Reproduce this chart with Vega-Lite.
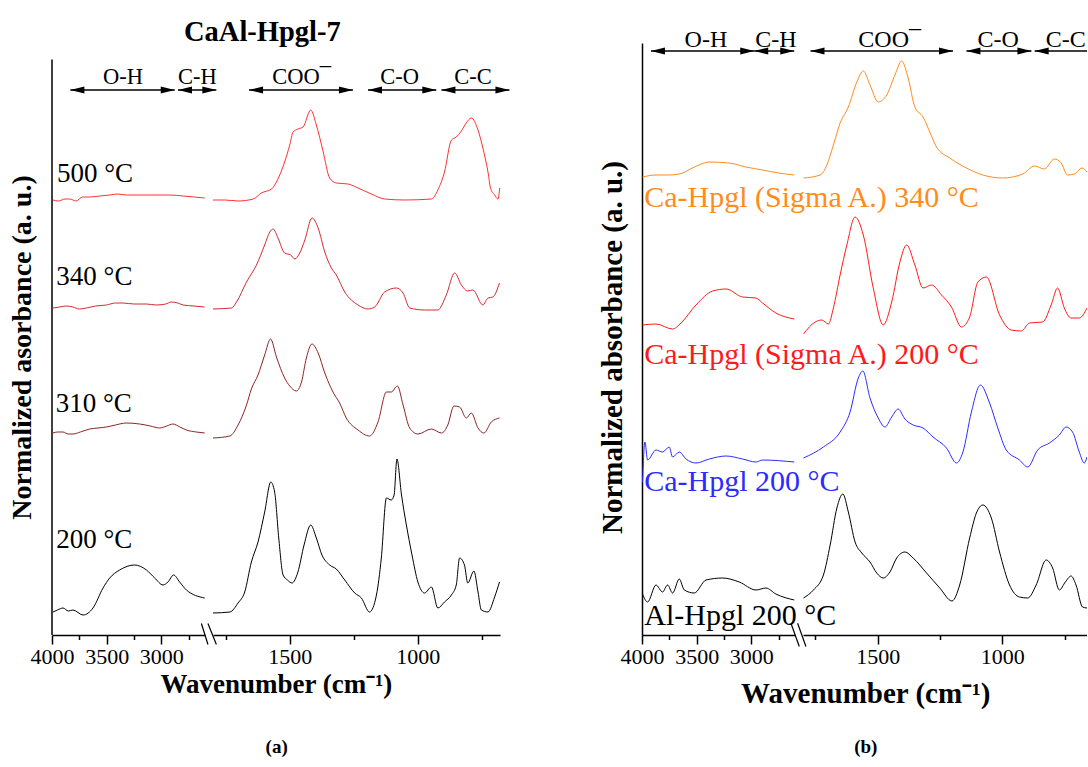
{
  "$schema": "https://vega.github.io/schema/vega-lite/v6.json",
  "padding": {"left": 8, "top": 18, "right": 0, "bottom": 0},
  "background": "white",
  "bounds": "flush",
  "spacing": 8,
  "config": {
    "view": {"stroke": null},
    "font": "Liberation Serif",
    "axis": {"grid": false, "domainColor": "black", "tickColor": "black", "labelColor": "black", "titleColor": "black", "labelFont": "Liberation Serif", "titleFont": "Liberation Serif"},
    "axisX": {"tickWidth": 1.5, "domainWidth": 1.5, "labelFontSize": 22, "labelPadding": 2, "labelFlush": false, "labelOverlap": false},
    "text": {"font": "Liberation Serif", "color": "black"}
  },
  "datasets": {
    "aL": [
      {"series": "500 °C", "wn": 3991, "abs": 435}, {"series": "500 °C", "wn": 3940, "abs": 434}, {"series": "500 °C", "wn": 3880, "abs": 436}, {"series": "500 °C", "wn": 3838, "abs": 436}, {"series": "500 °C", "wn": 3780, "abs": 434}, {"series": "500 °C", "wn": 3720, "abs": 438}, {"series": "500 °C", "wn": 3654, "abs": 438}, {"series": "500 °C", "wn": 3560, "abs": 439}, {"series": "500 °C", "wn": 3471, "abs": 440}, {"series": "500 °C", "wn": 3400, "abs": 441}, {"series": "500 °C", "wn": 3320, "abs": 440}, {"series": "500 °C", "wn": 3198, "abs": 440}, {"series": "500 °C", "wn": 3100, "abs": 440}, {"series": "500 °C", "wn": 3000, "abs": 440}, {"series": "500 °C", "wn": 2923, "abs": 440}, {"series": "500 °C", "wn": 2800, "abs": 439}, {"series": "500 °C", "wn": 2700, "abs": 438}, {"series": "500 °C", "wn": 2603, "abs": 437},
      {"series": "340 °C", "wn": 3991, "abs": 327}, {"series": "340 °C", "wn": 3930, "abs": 328}, {"series": "340 °C", "wn": 3870, "abs": 329}, {"series": "340 °C", "wn": 3808, "abs": 328}, {"series": "340 °C", "wn": 3750, "abs": 326}, {"series": "340 °C", "wn": 3685, "abs": 327}, {"series": "340 °C", "wn": 3600, "abs": 329}, {"series": "340 °C", "wn": 3502, "abs": 330}, {"series": "340 °C", "wn": 3420, "abs": 332}, {"series": "340 °C", "wn": 3350, "abs": 332}, {"series": "340 °C", "wn": 3250, "abs": 331}, {"series": "340 °C", "wn": 3136, "abs": 331}, {"series": "340 °C", "wn": 3045, "abs": 330}, {"series": "340 °C", "wn": 2960, "abs": 331}, {"series": "340 °C", "wn": 2908, "abs": 333}, {"series": "340 °C", "wn": 2850, "abs": 332}, {"series": "340 °C", "wn": 2801, "abs": 330}, {"series": "340 °C", "wn": 2700, "abs": 329}, {"series": "340 °C", "wn": 2603, "abs": 328},
      {"series": "310 °C", "wn": 3991, "abs": 202}, {"series": "310 °C", "wn": 3950, "abs": 203}, {"series": "310 °C", "wn": 3899, "abs": 203}, {"series": "310 °C", "wn": 3850, "abs": 201}, {"series": "310 °C", "wn": 3808, "abs": 201}, {"series": "310 °C", "wn": 3740, "abs": 203}, {"series": "310 °C", "wn": 3655, "abs": 206}, {"series": "310 °C", "wn": 3580, "abs": 207}, {"series": "310 °C", "wn": 3502, "abs": 208}, {"series": "310 °C", "wn": 3420, "abs": 210}, {"series": "310 °C", "wn": 3319, "abs": 212}, {"series": "310 °C", "wn": 3198, "abs": 211}, {"series": "310 °C", "wn": 3100, "abs": 209}, {"series": "310 °C", "wn": 3015, "abs": 207}, {"series": "310 °C", "wn": 2950, "abs": 209}, {"series": "310 °C", "wn": 2893, "abs": 211}, {"series": "310 °C", "wn": 2830, "abs": 208}, {"series": "310 °C", "wn": 2770, "abs": 205}, {"series": "310 °C", "wn": 2680, "abs": 203}, {"series": "310 °C", "wn": 2603, "abs": 202},
      {"series": "200 °C", "wn": 3991, "abs": 23}, {"series": "200 °C", "wn": 3950, "abs": 25}, {"series": "200 °C", "wn": 3899, "abs": 27}, {"series": "200 °C", "wn": 3850, "abs": 24}, {"series": "200 °C", "wn": 3808, "abs": 25}, {"series": "200 °C", "wn": 3716, "abs": 20}, {"series": "200 °C", "wn": 3625, "abs": 27}, {"series": "200 °C", "wn": 3533, "abs": 47}, {"series": "200 °C", "wn": 3472, "abs": 57}, {"series": "200 °C", "wn": 3381, "abs": 65}, {"series": "200 °C", "wn": 3244, "abs": 70}, {"series": "200 °C", "wn": 3136, "abs": 65}, {"series": "200 °C", "wn": 3060, "abs": 57}, {"series": "200 °C", "wn": 2984, "abs": 50}, {"series": "200 °C", "wn": 2939, "abs": 53}, {"series": "200 °C", "wn": 2887, "abs": 60}, {"series": "200 °C", "wn": 2832, "abs": 53}, {"series": "200 °C", "wn": 2770, "abs": 45}, {"series": "200 °C", "wn": 2603, "abs": 37}
    ],
    "aR": [
      {"series": "500 °C", "wn": 1800, "abs": 435}, {"series": "500 °C", "wn": 1754, "abs": 435}, {"series": "500 °C", "wn": 1702, "abs": 434}, {"series": "500 °C", "wn": 1643, "abs": 436}, {"series": "500 °C", "wn": 1611, "abs": 442}, {"series": "500 °C", "wn": 1571, "abs": 446}, {"series": "500 °C", "wn": 1552, "abs": 453}, {"series": "500 °C", "wn": 1520, "abs": 473}, {"series": "500 °C", "wn": 1500, "abs": 490}, {"series": "500 °C", "wn": 1487, "abs": 503}, {"series": "500 °C", "wn": 1468, "abs": 506}, {"series": "500 °C", "wn": 1448, "abs": 508}, {"series": "500 °C", "wn": 1418, "abs": 525}, {"series": "500 °C", "wn": 1396, "abs": 510}, {"series": "500 °C", "wn": 1370, "abs": 484}, {"series": "500 °C", "wn": 1344, "abs": 457}, {"series": "500 °C", "wn": 1318, "abs": 452}, {"series": "500 °C", "wn": 1272, "abs": 451}, {"series": "500 °C", "wn": 1233, "abs": 447}, {"series": "500 °C", "wn": 1181, "abs": 441}, {"series": "500 °C", "wn": 1129, "abs": 436}, {"series": "500 °C", "wn": 1051, "abs": 435}, {"series": "500 °C", "wn": 946, "abs": 436}, {"series": "500 °C", "wn": 921, "abs": 445}, {"series": "500 °C", "wn": 895, "abs": 463}, {"series": "500 °C", "wn": 868, "abs": 495}, {"series": "500 °C", "wn": 849, "abs": 498}, {"series": "500 °C", "wn": 829, "abs": 504}, {"series": "500 °C", "wn": 810, "abs": 512}, {"series": "500 °C", "wn": 790, "abs": 517}, {"series": "500 °C", "wn": 764, "abs": 505}, {"series": "500 °C", "wn": 745, "abs": 487}, {"series": "500 °C", "wn": 725, "abs": 463}, {"series": "500 °C", "wn": 715, "abs": 447}, {"series": "500 °C", "wn": 699, "abs": 440}, {"series": "500 °C", "wn": 686, "abs": 436}, {"series": "500 °C", "wn": 679, "abs": 447},
      {"series": "340 °C", "wn": 1800, "abs": 326}, {"series": "340 °C", "wn": 1728, "abs": 327}, {"series": "340 °C", "wn": 1708, "abs": 333}, {"series": "340 °C", "wn": 1669, "abs": 353}, {"series": "340 °C", "wn": 1630, "abs": 370}, {"series": "340 °C", "wn": 1598, "abs": 390}, {"series": "340 °C", "wn": 1578, "abs": 403}, {"series": "340 °C", "wn": 1565, "abs": 406}, {"series": "340 °C", "wn": 1546, "abs": 397}, {"series": "340 °C", "wn": 1520, "abs": 382}, {"series": "340 °C", "wn": 1496, "abs": 380}, {"series": "340 °C", "wn": 1480, "abs": 376}, {"series": "340 °C", "wn": 1461, "abs": 382}, {"series": "340 °C", "wn": 1441, "abs": 395}, {"series": "340 °C", "wn": 1413, "abs": 417}, {"series": "340 °C", "wn": 1389, "abs": 407}, {"series": "340 °C", "wn": 1363, "abs": 383}, {"series": "340 °C", "wn": 1337, "abs": 367}, {"series": "340 °C", "wn": 1318, "abs": 360}, {"series": "340 °C", "wn": 1285, "abs": 343}, {"series": "340 °C", "wn": 1233, "abs": 330}, {"series": "340 °C", "wn": 1194, "abs": 326}, {"series": "340 °C", "wn": 1168, "abs": 328}, {"series": "340 °C", "wn": 1129, "abs": 343}, {"series": "340 °C", "wn": 1083, "abs": 347}, {"series": "340 °C", "wn": 1057, "abs": 342}, {"series": "340 °C", "wn": 1031, "abs": 327}, {"series": "340 °C", "wn": 973, "abs": 325}, {"series": "340 °C", "wn": 921, "abs": 325}, {"series": "340 °C", "wn": 888, "abs": 340}, {"series": "340 °C", "wn": 855, "abs": 362}, {"series": "340 °C", "wn": 829, "abs": 350}, {"series": "340 °C", "wn": 804, "abs": 344}, {"series": "340 °C", "wn": 784, "abs": 345}, {"series": "340 °C", "wn": 745, "abs": 330}, {"series": "340 °C", "wn": 725, "abs": 337}, {"series": "340 °C", "wn": 706, "abs": 338}, {"series": "340 °C", "wn": 680, "abs": 352},
      {"series": "310 °C", "wn": 1800, "abs": 197}, {"series": "310 °C", "wn": 1734, "abs": 199}, {"series": "310 °C", "wn": 1702, "abs": 210}, {"series": "310 °C", "wn": 1669, "abs": 230}, {"series": "310 °C", "wn": 1650, "abs": 246}, {"series": "310 °C", "wn": 1624, "abs": 260}, {"series": "310 °C", "wn": 1598, "abs": 280}, {"series": "310 °C", "wn": 1575, "abs": 296}, {"series": "310 °C", "wn": 1552, "abs": 278}, {"series": "310 °C", "wn": 1520, "abs": 257}, {"series": "310 °C", "wn": 1500, "abs": 249}, {"series": "310 °C", "wn": 1474, "abs": 244}, {"series": "310 °C", "wn": 1454, "abs": 253}, {"series": "310 °C", "wn": 1435, "abs": 277}, {"series": "310 °C", "wn": 1413, "abs": 291}, {"series": "310 °C", "wn": 1389, "abs": 282}, {"series": "310 °C", "wn": 1363, "abs": 262}, {"series": "310 °C", "wn": 1331, "abs": 243}, {"series": "310 °C", "wn": 1305, "abs": 232}, {"series": "310 °C", "wn": 1279, "abs": 217}, {"series": "310 °C", "wn": 1233, "abs": 205}, {"series": "310 °C", "wn": 1188, "abs": 199}, {"series": "310 °C", "wn": 1155, "abs": 213}, {"series": "310 °C", "wn": 1122, "abs": 243}, {"series": "310 °C", "wn": 1103, "abs": 243}, {"series": "310 °C", "wn": 1079, "abs": 249}, {"series": "310 °C", "wn": 1057, "abs": 230}, {"series": "310 °C", "wn": 1031, "abs": 207}, {"series": "310 °C", "wn": 999, "abs": 201}, {"series": "310 °C", "wn": 946, "abs": 206}, {"series": "310 °C", "wn": 907, "abs": 202}, {"series": "310 °C", "wn": 882, "abs": 210}, {"series": "310 °C", "wn": 858, "abs": 229}, {"series": "310 °C", "wn": 836, "abs": 228}, {"series": "310 °C", "wn": 810, "abs": 217}, {"series": "310 °C", "wn": 790, "abs": 222}, {"series": "310 °C", "wn": 764, "abs": 207}, {"series": "310 °C", "wn": 741, "abs": 202}, {"series": "310 °C", "wn": 712, "abs": 213}, {"series": "310 °C", "wn": 680, "abs": 217},
      {"series": "200 °C", "wn": 1800, "abs": 22}, {"series": "200 °C", "wn": 1734, "abs": 23}, {"series": "200 °C", "wn": 1702, "abs": 32}, {"series": "200 °C", "wn": 1676, "abs": 43}, {"series": "200 °C", "wn": 1650, "abs": 73}, {"series": "200 °C", "wn": 1624, "abs": 93}, {"series": "200 °C", "wn": 1598, "abs": 123}, {"series": "200 °C", "wn": 1574, "abs": 153}, {"series": "200 °C", "wn": 1559, "abs": 143}, {"series": "200 °C", "wn": 1543, "abs": 97}, {"series": "200 °C", "wn": 1526, "abs": 60}, {"series": "200 °C", "wn": 1509, "abs": 55}, {"series": "200 °C", "wn": 1491, "abs": 52}, {"series": "200 °C", "wn": 1468, "abs": 63}, {"series": "200 °C", "wn": 1444, "abs": 90}, {"series": "200 °C", "wn": 1418, "abs": 110}, {"series": "200 °C", "wn": 1396, "abs": 97}, {"series": "200 °C", "wn": 1374, "abs": 80}, {"series": "200 °C", "wn": 1344, "abs": 70}, {"series": "200 °C", "wn": 1318, "abs": 66}, {"series": "200 °C", "wn": 1285, "abs": 55}, {"series": "200 °C", "wn": 1246, "abs": 42}, {"series": "200 °C", "wn": 1220, "abs": 37}, {"series": "200 °C", "wn": 1188, "abs": 23}, {"series": "200 °C", "wn": 1161, "abs": 40}, {"series": "200 °C", "wn": 1142, "abs": 77}, {"series": "200 °C", "wn": 1122, "abs": 137}, {"series": "200 °C", "wn": 1103, "abs": 135}, {"series": "200 °C", "wn": 1092, "abs": 140}, {"series": "200 °C", "wn": 1081, "abs": 176}, {"series": "200 °C", "wn": 1063, "abs": 140}, {"series": "200 °C", "wn": 1044, "abs": 110}, {"series": "200 °C", "wn": 1022, "abs": 80}, {"series": "200 °C", "wn": 999, "abs": 53}, {"series": "200 °C", "wn": 973, "abs": 42}, {"series": "200 °C", "wn": 946, "abs": 48}, {"series": "200 °C", "wn": 921, "abs": 27}, {"series": "200 °C", "wn": 895, "abs": 33}, {"series": "200 °C", "wn": 868, "abs": 40}, {"series": "200 °C", "wn": 849, "abs": 50}, {"series": "200 °C", "wn": 836, "abs": 77}, {"series": "200 °C", "wn": 817, "abs": 70}, {"series": "200 °C", "wn": 804, "abs": 52}, {"series": "200 °C", "wn": 780, "abs": 64}, {"series": "200 °C", "wn": 764, "abs": 43}, {"series": "200 °C", "wn": 751, "abs": 25}, {"series": "200 °C", "wn": 725, "abs": 23}, {"series": "200 °C", "wn": 699, "abs": 38}, {"series": "200 °C", "wn": 680, "abs": 53}
    ],
    "bL": [
      {"series": "Ca-Hpgl (Sigma A.) 340 °C", "wn": 3995, "abs": 458}, {"series": "Ca-Hpgl (Sigma A.) 340 °C", "wn": 3872, "abs": 460}, {"series": "Ca-Hpgl (Sigma A.) 340 °C", "wn": 3760, "abs": 460}, {"series": "Ca-Hpgl (Sigma A.) 340 °C", "wn": 3659, "abs": 461}, {"series": "Ca-Hpgl (Sigma A.) 340 °C", "wn": 3520, "abs": 468}, {"series": "Ca-Hpgl (Sigma A.) 340 °C", "wn": 3384, "abs": 473}, {"series": "Ca-Hpgl (Sigma A.) 340 °C", "wn": 3202, "abs": 472}, {"series": "Ca-Hpgl (Sigma A.) 340 °C", "wn": 3050, "abs": 468}, {"series": "Ca-Hpgl (Sigma A.) 340 °C", "wn": 2897, "abs": 465}, {"series": "Ca-Hpgl (Sigma A.) 340 °C", "wn": 2750, "abs": 462}, {"series": "Ca-Hpgl (Sigma A.) 340 °C", "wn": 2607, "abs": 460},
      {"series": "Ca-Hpgl (Sigma A.) 200 °C", "wn": 3995, "abs": 310}, {"series": "Ca-Hpgl (Sigma A.) 200 °C", "wn": 3872, "abs": 311}, {"series": "Ca-Hpgl (Sigma A.) 200 °C", "wn": 3720, "abs": 306}, {"series": "Ca-Hpgl (Sigma A.) 200 °C", "wn": 3643, "abs": 312}, {"series": "Ca-Hpgl (Sigma A.) 200 °C", "wn": 3506, "abs": 330}, {"series": "Ca-Hpgl (Sigma A.) 200 °C", "wn": 3353, "abs": 344}, {"series": "Ca-Hpgl (Sigma A.) 200 °C", "wn": 3231, "abs": 346}, {"series": "Ca-Hpgl (Sigma A.) 200 °C", "wn": 3080, "abs": 338}, {"series": "Ca-Hpgl (Sigma A.) 200 °C", "wn": 2957, "abs": 337}, {"series": "Ca-Hpgl (Sigma A.) 200 °C", "wn": 2897, "abs": 332}, {"series": "Ca-Hpgl (Sigma A.) 200 °C", "wn": 2775, "abs": 322}, {"series": "Ca-Hpgl (Sigma A.) 200 °C", "wn": 2607, "abs": 316},
      {"series": "Ca-Hpgl 200 °C", "wn": 3995, "abs": 153}, {"series": "Ca-Hpgl 200 °C", "wn": 3973, "abs": 193}, {"series": "Ca-Hpgl 200 °C", "wn": 3949, "abs": 175}, {"series": "Ca-Hpgl 200 °C", "wn": 3872, "abs": 185}, {"series": "Ca-Hpgl 200 °C", "wn": 3812, "abs": 183}, {"series": "Ca-Hpgl 200 °C", "wn": 3751, "abs": 188}, {"series": "Ca-Hpgl 200 °C", "wn": 3720, "abs": 178}, {"series": "Ca-Hpgl 200 °C", "wn": 3659, "abs": 183}, {"series": "Ca-Hpgl 200 °C", "wn": 3597, "abs": 176}, {"series": "Ca-Hpgl 200 °C", "wn": 3506, "abs": 172}, {"series": "Ca-Hpgl 200 °C", "wn": 3384, "abs": 176}, {"series": "Ca-Hpgl 200 °C", "wn": 3231, "abs": 179}, {"series": "Ca-Hpgl 200 °C", "wn": 3080, "abs": 176}, {"series": "Ca-Hpgl 200 °C", "wn": 2957, "abs": 173}, {"series": "Ca-Hpgl 200 °C", "wn": 2897, "abs": 175}, {"series": "Ca-Hpgl 200 °C", "wn": 2607, "abs": 173},
      {"series": "Al-Hpgl 200 °C", "wn": 3995, "abs": 41}, {"series": "Al-Hpgl 200 °C", "wn": 3949, "abs": 33}, {"series": "Al-Hpgl 200 °C", "wn": 3872, "abs": 50}, {"series": "Al-Hpgl 200 °C", "wn": 3812, "abs": 43}, {"series": "Al-Hpgl 200 °C", "wn": 3766, "abs": 50}, {"series": "Al-Hpgl 200 °C", "wn": 3720, "abs": 42}, {"series": "Al-Hpgl 200 °C", "wn": 3659, "abs": 56}, {"series": "Al-Hpgl 200 °C", "wn": 3613, "abs": 45}, {"series": "Al-Hpgl 200 °C", "wn": 3522, "abs": 42}, {"series": "Al-Hpgl 200 °C", "wn": 3414, "abs": 55}, {"series": "Al-Hpgl 200 °C", "wn": 3262, "abs": 57}, {"series": "Al-Hpgl 200 °C", "wn": 3110, "abs": 53}, {"series": "Al-Hpgl 200 °C", "wn": 2957, "abs": 45}, {"series": "Al-Hpgl 200 °C", "wn": 2866, "abs": 47}, {"series": "Al-Hpgl 200 °C", "wn": 2775, "abs": 41}, {"series": "Al-Hpgl 200 °C", "wn": 2607, "abs": 35}
    ],
    "bR": [
      {"series": "Ca-Hpgl (Sigma A.) 340 °C", "wn": 1798, "abs": 457}, {"series": "Ca-Hpgl (Sigma A.) 340 °C", "wn": 1731, "abs": 460}, {"series": "Ca-Hpgl (Sigma A.) 340 °C", "wn": 1704, "abs": 470}, {"series": "Ca-Hpgl (Sigma A.) 340 °C", "wn": 1678, "abs": 490}, {"series": "Ca-Hpgl (Sigma A.) 340 °C", "wn": 1651, "abs": 512}, {"series": "Ca-Hpgl (Sigma A.) 340 °C", "wn": 1618, "abs": 528}, {"series": "Ca-Hpgl (Sigma A.) 340 °C", "wn": 1584, "abs": 553}, {"series": "Ca-Hpgl (Sigma A.) 340 °C", "wn": 1558, "abs": 564}, {"series": "Ca-Hpgl (Sigma A.) 340 °C", "wn": 1531, "abs": 550}, {"series": "Ca-Hpgl (Sigma A.) 340 °C", "wn": 1498, "abs": 533}, {"series": "Ca-Hpgl (Sigma A.) 340 °C", "wn": 1464, "abs": 540}, {"series": "Ca-Hpgl (Sigma A.) 340 °C", "wn": 1431, "abs": 560}, {"series": "Ca-Hpgl (Sigma A.) 340 °C", "wn": 1404, "abs": 574}, {"series": "Ca-Hpgl (Sigma A.) 340 °C", "wn": 1378, "abs": 557}, {"series": "Ca-Hpgl (Sigma A.) 340 °C", "wn": 1351, "abs": 528}, {"series": "Ca-Hpgl (Sigma A.) 340 °C", "wn": 1318, "abs": 518}, {"series": "Ca-Hpgl (Sigma A.) 340 °C", "wn": 1291, "abs": 503}, {"series": "Ca-Hpgl (Sigma A.) 340 °C", "wn": 1264, "abs": 488}, {"series": "Ca-Hpgl (Sigma A.) 340 °C", "wn": 1211, "abs": 477}, {"series": "Ca-Hpgl (Sigma A.) 340 °C", "wn": 1144, "abs": 467}, {"series": "Ca-Hpgl (Sigma A.) 340 °C", "wn": 1078, "abs": 460}, {"series": "Ca-Hpgl (Sigma A.) 340 °C", "wn": 998, "abs": 457}, {"series": "Ca-Hpgl (Sigma A.) 340 °C", "wn": 918, "abs": 461}, {"series": "Ca-Hpgl (Sigma A.) 340 °C", "wn": 871, "abs": 469}, {"series": "Ca-Hpgl (Sigma A.) 340 °C", "wn": 831, "abs": 466}, {"series": "Ca-Hpgl (Sigma A.) 340 °C", "wn": 791, "abs": 476}, {"series": "Ca-Hpgl (Sigma A.) 340 °C", "wn": 764, "abs": 472}, {"series": "Ca-Hpgl (Sigma A.) 340 °C", "wn": 738, "abs": 460}, {"series": "Ca-Hpgl (Sigma A.) 340 °C", "wn": 711, "abs": 461}, {"series": "Ca-Hpgl (Sigma A.) 340 °C", "wn": 680, "abs": 467}, {"series": "Ca-Hpgl (Sigma A.) 340 °C", "wn": 660, "abs": 463},
      {"series": "Ca-Hpgl (Sigma A.) 200 °C", "wn": 1798, "abs": 301}, {"series": "Ca-Hpgl (Sigma A.) 200 °C", "wn": 1751, "abs": 313}, {"series": "Ca-Hpgl (Sigma A.) 200 °C", "wn": 1724, "abs": 315}, {"series": "Ca-Hpgl (Sigma A.) 200 °C", "wn": 1698, "abs": 311}, {"series": "Ca-Hpgl (Sigma A.) 200 °C", "wn": 1678, "abs": 327}, {"series": "Ca-Hpgl (Sigma A.) 200 °C", "wn": 1651, "abs": 360}, {"series": "Ca-Hpgl (Sigma A.) 200 °C", "wn": 1624, "abs": 390}, {"series": "Ca-Hpgl (Sigma A.) 200 °C", "wn": 1591, "abs": 418}, {"series": "Ca-Hpgl (Sigma A.) 200 °C", "wn": 1558, "abs": 400}, {"series": "Ca-Hpgl (Sigma A.) 200 °C", "wn": 1518, "abs": 347}, {"series": "Ca-Hpgl (Sigma A.) 200 °C", "wn": 1478, "abs": 310}, {"series": "Ca-Hpgl (Sigma A.) 200 °C", "wn": 1444, "abs": 333}, {"series": "Ca-Hpgl (Sigma A.) 200 °C", "wn": 1411, "abs": 373}, {"series": "Ca-Hpgl (Sigma A.) 200 °C", "wn": 1384, "abs": 390}, {"series": "Ca-Hpgl (Sigma A.) 200 °C", "wn": 1351, "abs": 370}, {"series": "Ca-Hpgl (Sigma A.) 200 °C", "wn": 1318, "abs": 347}, {"series": "Ca-Hpgl (Sigma A.) 200 °C", "wn": 1284, "abs": 350}, {"series": "Ca-Hpgl (Sigma A.) 200 °C", "wn": 1244, "abs": 340}, {"series": "Ca-Hpgl (Sigma A.) 200 °C", "wn": 1204, "abs": 328}, {"series": "Ca-Hpgl (Sigma A.) 200 °C", "wn": 1164, "abs": 308}, {"series": "Ca-Hpgl (Sigma A.) 200 °C", "wn": 1131, "abs": 318}, {"series": "Ca-Hpgl (Sigma A.) 200 °C", "wn": 1098, "abs": 353}, {"series": "Ca-Hpgl (Sigma A.) 200 °C", "wn": 1064, "abs": 358}, {"series": "Ca-Hpgl (Sigma A.) 200 °C", "wn": 1011, "abs": 320}, {"series": "Ca-Hpgl (Sigma A.) 200 °C", "wn": 964, "abs": 305}, {"series": "Ca-Hpgl (Sigma A.) 200 °C", "wn": 924, "abs": 304}, {"series": "Ca-Hpgl (Sigma A.) 200 °C", "wn": 891, "abs": 312}, {"series": "Ca-Hpgl (Sigma A.) 200 °C", "wn": 838, "abs": 313}, {"series": "Ca-Hpgl (Sigma A.) 200 °C", "wn": 804, "abs": 330}, {"series": "Ca-Hpgl (Sigma A.) 200 °C", "wn": 778, "abs": 347}, {"series": "Ca-Hpgl (Sigma A.) 200 °C", "wn": 751, "abs": 327}, {"series": "Ca-Hpgl (Sigma A.) 200 °C", "wn": 724, "abs": 317}, {"series": "Ca-Hpgl (Sigma A.) 200 °C", "wn": 691, "abs": 317}, {"series": "Ca-Hpgl (Sigma A.) 200 °C", "wn": 660, "abs": 327},
      {"series": "Ca-Hpgl 200 °C", "wn": 1798, "abs": 177}, {"series": "Ca-Hpgl 200 °C", "wn": 1718, "abs": 188}, {"series": "Ca-Hpgl 200 °C", "wn": 1651, "abs": 203}, {"series": "Ca-Hpgl 200 °C", "wn": 1611, "abs": 223}, {"series": "Ca-Hpgl 200 °C", "wn": 1578, "abs": 257}, {"series": "Ca-Hpgl 200 °C", "wn": 1560, "abs": 264}, {"series": "Ca-Hpgl 200 °C", "wn": 1531, "abs": 237}, {"series": "Ca-Hpgl 200 °C", "wn": 1498, "abs": 217}, {"series": "Ca-Hpgl 200 °C", "wn": 1471, "abs": 208}, {"series": "Ca-Hpgl 200 °C", "wn": 1444, "abs": 218}, {"series": "Ca-Hpgl 200 °C", "wn": 1418, "abs": 226}, {"series": "Ca-Hpgl 200 °C", "wn": 1391, "abs": 216}, {"series": "Ca-Hpgl 200 °C", "wn": 1358, "abs": 210}, {"series": "Ca-Hpgl 200 °C", "wn": 1318, "abs": 207}, {"series": "Ca-Hpgl 200 °C", "wn": 1278, "abs": 198}, {"series": "Ca-Hpgl 200 °C", "wn": 1224, "abs": 187}, {"series": "Ca-Hpgl 200 °C", "wn": 1184, "abs": 172}, {"series": "Ca-Hpgl 200 °C", "wn": 1158, "abs": 183}, {"series": "Ca-Hpgl 200 °C", "wn": 1124, "abs": 223}, {"series": "Ca-Hpgl 200 °C", "wn": 1088, "abs": 250}, {"series": "Ca-Hpgl 200 °C", "wn": 1051, "abs": 232}, {"series": "Ca-Hpgl 200 °C", "wn": 1018, "abs": 207}, {"series": "Ca-Hpgl 200 °C", "wn": 984, "abs": 185}, {"series": "Ca-Hpgl 200 °C", "wn": 931, "abs": 175}, {"series": "Ca-Hpgl 200 °C", "wn": 898, "abs": 168}, {"series": "Ca-Hpgl 200 °C", "wn": 858, "abs": 185}, {"series": "Ca-Hpgl 200 °C", "wn": 811, "abs": 192}, {"series": "Ca-Hpgl 200 °C", "wn": 771, "abs": 200}, {"series": "Ca-Hpgl 200 °C", "wn": 744, "abs": 208}, {"series": "Ca-Hpgl 200 °C", "wn": 718, "abs": 203}, {"series": "Ca-Hpgl 200 °C", "wn": 691, "abs": 183}, {"series": "Ca-Hpgl 200 °C", "wn": 671, "abs": 172}, {"series": "Ca-Hpgl 200 °C", "wn": 660, "abs": 178},
      {"series": "Al-Hpgl 200 °C", "wn": 1798, "abs": 37}, {"series": "Al-Hpgl 200 °C", "wn": 1758, "abs": 45}, {"series": "Al-Hpgl 200 °C", "wn": 1718, "abs": 60}, {"series": "Al-Hpgl 200 °C", "wn": 1691, "abs": 90}, {"series": "Al-Hpgl 200 °C", "wn": 1664, "abs": 127}, {"series": "Al-Hpgl 200 °C", "wn": 1640, "abs": 141}, {"series": "Al-Hpgl 200 °C", "wn": 1618, "abs": 123}, {"series": "Al-Hpgl 200 °C", "wn": 1591, "abs": 93}, {"series": "Al-Hpgl 200 °C", "wn": 1564, "abs": 82}, {"series": "Al-Hpgl 200 °C", "wn": 1531, "abs": 73}, {"series": "Al-Hpgl 200 °C", "wn": 1504, "abs": 62}, {"series": "Al-Hpgl 200 °C", "wn": 1478, "abs": 57}, {"series": "Al-Hpgl 200 °C", "wn": 1451, "abs": 63}, {"series": "Al-Hpgl 200 °C", "wn": 1424, "abs": 77}, {"series": "Al-Hpgl 200 °C", "wn": 1391, "abs": 83}, {"series": "Al-Hpgl 200 °C", "wn": 1358, "abs": 77}, {"series": "Al-Hpgl 200 °C", "wn": 1304, "abs": 62}, {"series": "Al-Hpgl 200 °C", "wn": 1251, "abs": 47}, {"series": "Al-Hpgl 200 °C", "wn": 1202, "abs": 34}, {"series": "Al-Hpgl 200 °C", "wn": 1171, "abs": 50}, {"series": "Al-Hpgl 200 °C", "wn": 1131, "abs": 97}, {"series": "Al-Hpgl 200 °C", "wn": 1104, "abs": 122}, {"series": "Al-Hpgl 200 °C", "wn": 1078, "abs": 130}, {"series": "Al-Hpgl 200 °C", "wn": 1044, "abs": 117}, {"series": "Al-Hpgl 200 °C", "wn": 1011, "abs": 83}, {"series": "Al-Hpgl 200 °C", "wn": 971, "abs": 50}, {"series": "Al-Hpgl 200 °C", "wn": 931, "abs": 38}, {"series": "Al-Hpgl 200 °C", "wn": 898, "abs": 37}, {"series": "Al-Hpgl 200 °C", "wn": 864, "abs": 50}, {"series": "Al-Hpgl 200 °C", "wn": 824, "abs": 75}, {"series": "Al-Hpgl 200 °C", "wn": 798, "abs": 67}, {"series": "Al-Hpgl 200 °C", "wn": 771, "abs": 45}, {"series": "Al-Hpgl 200 °C", "wn": 747, "abs": 53}, {"series": "Al-Hpgl 200 °C", "wn": 724, "abs": 59}, {"series": "Al-Hpgl 200 °C", "wn": 704, "abs": 50}, {"series": "Al-Hpgl 200 °C", "wn": 678, "abs": 28}, {"series": "Al-Hpgl 200 °C", "wn": 660, "abs": 27}
    ],
    "labels": [
      {"panel": "a", "series": "500 °C", "wn": 3955, "abs": 453},
      {"panel": "a", "series": "340 °C", "wn": 3960, "abs": 350},
      {"panel": "a", "series": "310 °C", "wn": 3965, "abs": 223},
      {"panel": "a", "series": "200 °C", "wn": 3962, "abs": 87},
      {"panel": "b", "series": "Ca-Hpgl (Sigma A.) 340 °C", "wn": 3979, "abs": 428},
      {"panel": "b", "series": "Ca-Hpgl (Sigma A.) 200 °C", "wn": 3979, "abs": 271},
      {"panel": "b", "series": "Ca-Hpgl 200 °C", "wn": 3979, "abs": 144},
      {"panel": "b", "series": "Al-Hpgl 200 °C", "wn": 3979, "abs": 10}
    ],
    "bands": [
      {"panel": "a", "seg": "L", "band": "O-H", "from": 3832, "to": 2877, "center": 3350},
      {"panel": "a", "seg": "L", "band": "C-H", "from": 2847, "to": 2496, "center": 2670},
      {"panel": "a", "seg": "R", "band": "COO¯", "from": 1659, "to": 1253, "center": 1454},
      {"panel": "a", "seg": "R", "band": "C-O", "from": 1194, "to": 927, "center": 1070},
      {"panel": "a", "seg": "R", "band": "C-C", "from": 907, "to": 641, "center": 784},
      {"panel": "b", "seg": "L", "band": "O-H", "from": 3918, "to": 2973, "center": 3415},
      {"panel": "b", "seg": "L", "band": "C-H", "from": 2973, "to": 2607, "center": 2774},
      {"panel": "b", "seg": "R", "band": "COO¯", "from": 1770, "to": 1198, "center": 1452},
      {"panel": "b", "seg": "R", "band": "C-O", "from": 1144, "to": 883, "center": 1017},
      {"panel": "b", "seg": "R", "band": "C-C", "from": 870, "to": 600, "center": 745}
    ],
    "breaks": [
      {"panel": "b", "top": 2637, "bottom": 2561},
      {"panel": "b", "top": 2576, "bottom": 2500}
    ]
  },
  "hconcat": [
    {
      "width": 153, "height": 592,
      "layer": [
        {
          "data": {"name": "aL"},
          "mark": {"type": "line", "strokeWidth": 1, "interpolate": "monotone"},
          "encoding": {
            "x": {"field": "wn", "type": "quantitative", "scale": {"domain": [2600, 4000], "reverse": true, "nice": false, "zero": false},
              "axis": {"values": [4000, 3750, 3500, 3250, 3000, 2750], "format": "d", "labelExpr": "datum.value % 500 === 0 ? datum.label : ''", "title": null, "tickSize": {"condition": {"test": "datum.value % 500 === 0", "value": 9}, "value": 4.5}}},
            "y": {"field": "abs", "type": "quantitative", "scale": {"domain": [0, 592], "nice": false, "zero": false},
              "axis": {"title": "Normalized asorbance (a. u.)", "domain": false, "ticks": false, "labels": false, "titleFontSize": 28, "titleFontWeight": "bold", "titlePadding": 16, "titleY": 304}},
            "color": {"field": "series", "type": "nominal", "legend": null, "scale": {"domain": ["500 °C", "340 °C", "310 °C", "200 °C", "Ca-Hpgl (Sigma A.) 340 °C", "Ca-Hpgl (Sigma A.) 200 °C", "Ca-Hpgl 200 °C", "Al-Hpgl 200 °C"], "range": ["#ff3030", "#d42a30", "#8b2525", "#000000", "#ff8c1a", "#ff1a1a", "#2b2bff", "#000000"]}}
          }
        },
        {
          "data": {"name": "labels"},
          "transform": [{"filter": "datum.panel === 'a'"}],
          "mark": {"type": "text", "align": "left", "baseline": "alphabetic", "fontSize": 27, "color": "black"},
          "encoding": {
            "x": {"field": "wn", "type": "quantitative", "scale": {"domain": [2600, 4000], "reverse": true, "nice": false, "zero": false},
              "axis": {"values": [4000, 3750, 3500, 3250, 3000, 2750], "format": "d", "labelExpr": "datum.value % 500 === 0 ? datum.label : ''", "title": null, "tickSize": {"condition": {"test": "datum.value % 500 === 0", "value": 9}, "value": 4.5}}},
            "y": {"field": "abs", "type": "quantitative", "scale": {"domain": [0, 592], "nice": false, "zero": false},
              "axis": {"title": "Normalized asorbance (a. u.)", "domain": false, "ticks": false, "labels": false, "titleFontSize": 28, "titleFontWeight": "bold", "titlePadding": 16, "titleY": 304}},
            "text": {"field": "series"}
          }
        },
        {
          "data": {"name": "bands"},
          "transform": [{"filter": "datum.panel === 'a' && datum.seg === 'L'"}],
          "layer": [
            {"mark": {"type": "rule", "color": "black", "strokeWidth": 1.6}, "encoding": {"x": {"field": "from", "type": "quantitative", "axis": {"values": [4000, 3750, 3500, 3250, 3000, 2750], "format": "d", "labelExpr": "datum.value % 500 === 0 ? datum.label : ''", "title": null, "tickSize": {"condition": {"test": "datum.value % 500 === 0", "value": 9}, "value": 4.5}}}, "x2": {"field": "to"}, "y": {"datum": 545}}},
            {"mark": {"type": "point", "shape": "M0,0L2,-0.5L2,0.5Z", "filled": true, "color": "black", "opacity": 1, "size": 196, "strokeWidth": 0}, "encoding": {"x": {"field": "from", "type": "quantitative", "axis": {"values": [4000, 3750, 3500, 3250, 3000, 2750], "format": "d", "labelExpr": "datum.value % 500 === 0 ? datum.label : ''", "title": null, "tickSize": {"condition": {"test": "datum.value % 500 === 0", "value": 9}, "value": 4.5}}}, "y": {"datum": 545}}},
            {"mark": {"type": "point", "shape": "M0,0L-2,-0.5L-2,0.5Z", "filled": true, "color": "black", "opacity": 1, "size": 196, "strokeWidth": 0}, "encoding": {"x": {"field": "to", "type": "quantitative", "axis": {"values": [4000, 3750, 3500, 3250, 3000, 2750], "format": "d", "labelExpr": "datum.value % 500 === 0 ? datum.label : ''", "title": null, "tickSize": {"condition": {"test": "datum.value % 500 === 0", "value": 9}, "value": 4.5}}}, "y": {"datum": 545}}},
            {"mark": {"type": "text", "fontSize": 22.5, "baseline": "alphabetic", "align": "center", "color": "black"}, "encoding": {"x": {"field": "center", "type": "quantitative", "axis": {"values": [4000, 3750, 3500, 3250, 3000, 2750], "format": "d", "labelExpr": "datum.value % 500 === 0 ? datum.label : ''", "title": null, "tickSize": {"condition": {"test": "datum.value % 500 === 0", "value": 9}, "value": 4.5}}}, "y": {"datum": 551}, "text": {"field": "band"}}}
          ]
        },
        {
          "data": {"values": [{}]},
          "layer": [
            {"mark": {"type": "rule", "color": "black", "strokeWidth": 1.5}, "encoding": {
              "x": {"datum": 4000, "type": "quantitative", "axis": {"values": [4000, 3750, 3500, 3250, 3000, 2750], "format": "d", "labelExpr": "datum.value % 500 === 0 ? datum.label : ''", "title": null, "tickSize": {"condition": {"test": "datum.value % 500 === 0", "value": 9}, "value": 4.5}}},
              "y": {"datum": 0, "type": "quantitative", "axis": {"title": "Normalized asorbance (a. u.)", "domain": false, "ticks": false, "labels": false, "titleFontSize": 28, "titleFontWeight": "bold", "titlePadding": 16, "titleY": 304}},
              "y2": {"datum": 575.5}}},
            {"mark": {"type": "rule", "color": "black", "strokeWidth": 1.2}, "encoding": {
              "x": {"datum": 2633, "type": "quantitative", "axis": {"values": [4000, 3750, 3500, 3250, 3000, 2750], "format": "d", "labelExpr": "datum.value % 500 === 0 ? datum.label : ''", "title": null, "tickSize": {"condition": {"test": "datum.value % 500 === 0", "value": 9}, "value": 4.5}}},
              "x2": {"datum": 2573},
              "y": {"datum": 11.5, "type": "quantitative", "axis": {"title": "Normalized asorbance (a. u.)", "domain": false, "ticks": false, "labels": false, "titleFontSize": 28, "titleFontWeight": "bold", "titlePadding": 16, "titleY": 304}},
              "y2": {"datum": -9.5}}},
            {"mark": {"type": "rule", "color": "black", "strokeWidth": 1.2}, "encoding": {
              "x": {"datum": 2573, "type": "quantitative", "axis": {"values": [4000, 3750, 3500, 3250, 3000, 2750], "format": "d", "labelExpr": "datum.value % 500 === 0 ? datum.label : ''", "title": null, "tickSize": {"condition": {"test": "datum.value % 500 === 0", "value": 9}, "value": 4.5}}},
              "x2": {"datum": 2496},
              "y": {"datum": 11.5, "type": "quantitative", "axis": {"title": "Normalized asorbance (a. u.)", "domain": false, "ticks": false, "labels": false, "titleFontSize": 28, "titleFontWeight": "bold", "titlePadding": 16, "titleY": 304}},
              "y2": {"datum": -9.5}}}
          ]
        }
      ]
    },
    {
      "width": 287, "height": 592,
      "layer": [
        {
          "data": {"name": "aR"},
          "mark": {"type": "line", "strokeWidth": 1, "interpolate": "monotone"},
          "encoding": {
            "x": {"field": "wn", "type": "quantitative", "scale": {"domain": [678, 1800], "reverse": true, "nice": false, "zero": false},
              "axis": {"values": [1750, 1500, 1250, 1000, 750], "format": "d", "labelExpr": "datum.value % 500 === 0 ? datum.label : ''", "title": null, "tickSize": {"condition": {"test": "datum.value % 500 === 0", "value": 9}, "value": 4.5}}},
            "y": {"field": "abs", "type": "quantitative", "scale": {"domain": [0, 592], "nice": false, "zero": false}, "axis": null},
            "color": {"field": "series", "type": "nominal", "legend": null, "scale": {"domain": ["500 °C", "340 °C", "310 °C", "200 °C", "Ca-Hpgl (Sigma A.) 340 °C", "Ca-Hpgl (Sigma A.) 200 °C", "Ca-Hpgl 200 °C", "Al-Hpgl 200 °C"], "range": ["#ff3030", "#d42a30", "#8b2525", "#000000", "#ff8c1a", "#ff1a1a", "#2b2bff", "#000000"]}}
          }
        },
        {
          "data": {"name": "bands"},
          "transform": [{"filter": "datum.panel === 'a' && datum.seg === 'R'"}],
          "layer": [
            {"mark": {"type": "rule", "color": "black", "strokeWidth": 1.6}, "encoding": {"x": {"field": "from", "type": "quantitative", "axis": {"values": [1750, 1500, 1250, 1000, 750], "format": "d", "labelExpr": "datum.value % 500 === 0 ? datum.label : ''", "title": null, "tickSize": {"condition": {"test": "datum.value % 500 === 0", "value": 9}, "value": 4.5}}}, "x2": {"field": "to"}, "y": {"datum": 545}}},
            {"mark": {"type": "point", "shape": "M0,0L2,-0.5L2,0.5Z", "filled": true, "color": "black", "opacity": 1, "size": 196, "strokeWidth": 0}, "encoding": {"x": {"field": "from", "type": "quantitative", "axis": {"values": [1750, 1500, 1250, 1000, 750], "format": "d", "labelExpr": "datum.value % 500 === 0 ? datum.label : ''", "title": null, "tickSize": {"condition": {"test": "datum.value % 500 === 0", "value": 9}, "value": 4.5}}}, "y": {"datum": 545}}},
            {"mark": {"type": "point", "shape": "M0,0L-2,-0.5L-2,0.5Z", "filled": true, "color": "black", "opacity": 1, "size": 196, "strokeWidth": 0}, "encoding": {"x": {"field": "to", "type": "quantitative", "axis": {"values": [1750, 1500, 1250, 1000, 750], "format": "d", "labelExpr": "datum.value % 500 === 0 ? datum.label : ''", "title": null, "tickSize": {"condition": {"test": "datum.value % 500 === 0", "value": 9}, "value": 4.5}}}, "y": {"datum": 545}}},
            {"mark": {"type": "text", "fontSize": 22.5, "baseline": "alphabetic", "align": "center", "color": "black"}, "encoding": {"x": {"field": "center", "type": "quantitative", "axis": {"values": [1750, 1500, 1250, 1000, 750], "format": "d", "labelExpr": "datum.value % 500 === 0 ? datum.label : ''", "title": null, "tickSize": {"condition": {"test": "datum.value % 500 === 0", "value": 9}, "value": 4.5}}}, "y": {"datum": 551}, "text": {"field": "band"}}}
          ]
        },
        {
          "data": {"values": [{}]},
          "layer": [
            {"mark": {"type": "text", "fontSize": 28.5, "fontWeight": "bold", "align": "center", "baseline": "alphabetic", "color": "black"}, "encoding": {"x": {"datum": 1607}, "y": {"datum": 594}, "text": {"value": "CaAl-Hpgl-7"}}},
            {"mark": {"type": "text", "fontSize": 27, "fontWeight": "bold", "align": "center", "baseline": "alphabetic", "color": "black"}, "encoding": {"x": {"datum": 1552}, "y": {"datum": -58}, "text": {"value": "Wavenumber (cm⁻¹)"}}},
            {"mark": {"type": "text", "fontSize": 19, "fontWeight": "bold", "align": "center", "baseline": "alphabetic", "color": "black"}, "encoding": {"x": {"datum": 1551}, "y": {"datum": -118}, "text": {"value": "(a)"}}}
          ]
        }
      ]
    },
    {
      "width": 126, "height": 592,
      "data": {"values": [{}]},
      "mark": {"type": "text"},
      "encoding": {"text": {"value": ""}}
    },
    {
      "width": 153, "height": 592,
      "layer": [
        {
          "data": {"name": "bL"},
          "mark": {"type": "line", "strokeWidth": 1, "interpolate": "monotone"},
          "encoding": {
            "x": {"field": "wn", "type": "quantitative", "scale": {"domain": [2600, 4000], "reverse": true, "nice": false, "zero": false},
              "axis": {"values": [4000, 3750, 3500, 3250, 3000, 2750], "format": "d", "labelExpr": "datum.value % 500 === 0 ? datum.label : ''", "title": null, "tickSize": {"condition": {"test": "datum.value % 500 === 0", "value": 9}, "value": 4.5}}},
            "y": {"field": "abs", "type": "quantitative", "scale": {"domain": [0, 592], "nice": false, "zero": false},
              "axis": {"title": "Normalized absorbance (a. u.)", "domain": true, "domainWidth": 1.5, "ticks": false, "labels": false, "titleFontSize": 29, "titleFontWeight": "bold", "titlePadding": 15, "titleY": 304}},
            "color": {"field": "series", "type": "nominal", "legend": null, "scale": {"domain": ["500 °C", "340 °C", "310 °C", "200 °C", "Ca-Hpgl (Sigma A.) 340 °C", "Ca-Hpgl (Sigma A.) 200 °C", "Ca-Hpgl 200 °C", "Al-Hpgl 200 °C"], "range": ["#ff3030", "#d42a30", "#8b2525", "#000000", "#ff8c1a", "#ff1a1a", "#2b2bff", "#000000"]}}
          }
        },
        {
          "data": {"name": "labels"},
          "transform": [{"filter": "datum.panel === 'b'"}],
          "mark": {"type": "text", "align": "left", "baseline": "alphabetic", "fontSize": 30},
          "encoding": {
            "x": {"field": "wn", "type": "quantitative", "scale": {"domain": [2600, 4000], "reverse": true, "nice": false, "zero": false},
              "axis": {"values": [4000, 3750, 3500, 3250, 3000, 2750], "format": "d", "labelExpr": "datum.value % 500 === 0 ? datum.label : ''", "title": null, "tickSize": {"condition": {"test": "datum.value % 500 === 0", "value": 9}, "value": 4.5}}},
            "y": {"field": "abs", "type": "quantitative", "scale": {"domain": [0, 592], "nice": false, "zero": false},
              "axis": {"title": "Normalized absorbance (a. u.)", "domain": true, "domainWidth": 1.5, "ticks": false, "labels": false, "titleFontSize": 29, "titleFontWeight": "bold", "titlePadding": 15, "titleY": 304}},
            "text": {"field": "series"},
            "color": {"field": "series", "type": "nominal", "legend": null, "scale": {"domain": ["500 °C", "340 °C", "310 °C", "200 °C", "Ca-Hpgl (Sigma A.) 340 °C", "Ca-Hpgl (Sigma A.) 200 °C", "Ca-Hpgl 200 °C", "Al-Hpgl 200 °C"], "range": ["#ff3030", "#d42a30", "#8b2525", "#000000", "#ff8000", "#ff0000", "#0000ff", "#000000"]}}
          }
        },
        {
          "data": {"name": "bands"},
          "transform": [{"filter": "datum.panel === 'b' && datum.seg === 'L'"}],
          "layer": [
            {"mark": {"type": "rule", "color": "black", "strokeWidth": 1.6}, "encoding": {"x": {"field": "from", "type": "quantitative", "axis": {"values": [4000, 3750, 3500, 3250, 3000, 2750], "format": "d", "labelExpr": "datum.value % 500 === 0 ? datum.label : ''", "title": null, "tickSize": {"condition": {"test": "datum.value % 500 === 0", "value": 9}, "value": 4.5}}}, "x2": {"field": "to"}, "y": {"datum": 584}}},
            {"mark": {"type": "point", "shape": "M0,0L2,-0.5L2,0.5Z", "filled": true, "color": "black", "opacity": 1, "size": 196, "strokeWidth": 0}, "encoding": {"x": {"field": "from", "type": "quantitative", "axis": {"values": [4000, 3750, 3500, 3250, 3000, 2750], "format": "d", "labelExpr": "datum.value % 500 === 0 ? datum.label : ''", "title": null, "tickSize": {"condition": {"test": "datum.value % 500 === 0", "value": 9}, "value": 4.5}}}, "y": {"datum": 584}}},
            {"mark": {"type": "point", "shape": "M0,0L-2,-0.5L-2,0.5Z", "filled": true, "color": "black", "opacity": 1, "size": 196, "strokeWidth": 0}, "encoding": {"x": {"field": "to", "type": "quantitative", "axis": {"values": [4000, 3750, 3500, 3250, 3000, 2750], "format": "d", "labelExpr": "datum.value % 500 === 0 ? datum.label : ''", "title": null, "tickSize": {"condition": {"test": "datum.value % 500 === 0", "value": 9}, "value": 4.5}}}, "y": {"datum": 584}}},
            {"mark": {"type": "text", "fontSize": 24, "baseline": "alphabetic", "align": "center", "color": "black"}, "encoding": {"x": {"field": "center", "type": "quantitative", "axis": {"values": [4000, 3750, 3500, 3250, 3000, 2750], "format": "d", "labelExpr": "datum.value % 500 === 0 ? datum.label : ''", "title": null, "tickSize": {"condition": {"test": "datum.value % 500 === 0", "value": 9}, "value": 4.5}}}, "y": {"datum": 588.5}, "text": {"field": "band"}}}
          ]
        },
        {
          "data": {"name": "breaks"},
          "transform": [{"filter": "datum.panel === 'b'"}],
          "mark": {"type": "rule", "color": "black", "strokeWidth": 1.2},
          "encoding": {
            "x": {"field": "top", "type": "quantitative", "axis": {"values": [4000, 3750, 3500, 3250, 3000, 2750], "format": "d", "labelExpr": "datum.value % 500 === 0 ? datum.label : ''", "title": null, "tickSize": {"condition": {"test": "datum.value % 500 === 0", "value": 9}, "value": 4.5}}},
            "x2": {"field": "bottom"},
            "y": {"datum": 11.8},
            "y2": {"datum": -11.5}
          }
        }
      ]
    },
    {
      "width": 284, "height": 592,
      "layer": [
        {
          "data": {"name": "bR"},
          "mark": {"type": "line", "strokeWidth": 1, "interpolate": "monotone", "clip": true},
          "encoding": {
            "x": {"field": "wn", "type": "quantitative", "scale": {"domain": [660, 1800], "reverse": true, "nice": false, "zero": false},
              "axis": {"values": [1750, 1500, 1250, 1000, 750], "format": "d", "labelExpr": "datum.value % 500 === 0 ? datum.label : ''", "title": null, "tickSize": {"condition": {"test": "datum.value % 500 === 0", "value": 9}, "value": 4.5}}},
            "y": {"field": "abs", "type": "quantitative", "scale": {"domain": [0, 592], "nice": false, "zero": false}, "axis": null},
            "color": {"field": "series", "type": "nominal", "legend": null, "scale": {"domain": ["500 °C", "340 °C", "310 °C", "200 °C", "Ca-Hpgl (Sigma A.) 340 °C", "Ca-Hpgl (Sigma A.) 200 °C", "Ca-Hpgl 200 °C", "Al-Hpgl 200 °C"], "range": ["#ff3030", "#d42a30", "#8b2525", "#000000", "#ff8c1a", "#ff1a1a", "#2b2bff", "#000000"]}}
          }
        },
        {
          "data": {"name": "bands"},
          "transform": [{"filter": "datum.panel === 'b' && datum.seg === 'R'"}],
          "layer": [
            {"mark": {"type": "rule", "color": "black", "strokeWidth": 1.6, "clip": true}, "encoding": {"x": {"field": "from", "type": "quantitative", "axis": {"values": [1750, 1500, 1250, 1000, 750], "format": "d", "labelExpr": "datum.value % 500 === 0 ? datum.label : ''", "title": null, "tickSize": {"condition": {"test": "datum.value % 500 === 0", "value": 9}, "value": 4.5}}}, "x2": {"field": "to"}, "y": {"datum": 584}}},
            {"mark": {"type": "point", "shape": "M0,0L2,-0.5L2,0.5Z", "filled": true, "color": "black", "opacity": 1, "size": 196, "strokeWidth": 0, "clip": true}, "encoding": {"x": {"field": "from", "type": "quantitative", "axis": {"values": [1750, 1500, 1250, 1000, 750], "format": "d", "labelExpr": "datum.value % 500 === 0 ? datum.label : ''", "title": null, "tickSize": {"condition": {"test": "datum.value % 500 === 0", "value": 9}, "value": 4.5}}}, "y": {"datum": 584}}},
            {"mark": {"type": "point", "shape": "M0,0L-2,-0.5L-2,0.5Z", "filled": true, "color": "black", "opacity": 1, "size": 196, "strokeWidth": 0, "clip": true}, "encoding": {"x": {"field": "to", "type": "quantitative", "axis": {"values": [1750, 1500, 1250, 1000, 750], "format": "d", "labelExpr": "datum.value % 500 === 0 ? datum.label : ''", "title": null, "tickSize": {"condition": {"test": "datum.value % 500 === 0", "value": 9}, "value": 4.5}}}, "y": {"datum": 584}}},
            {"mark": {"type": "text", "fontSize": 24, "baseline": "alphabetic", "align": "center", "color": "black"}, "encoding": {"x": {"field": "center", "type": "quantitative", "axis": {"values": [1750, 1500, 1250, 1000, 750], "format": "d", "labelExpr": "datum.value % 500 === 0 ? datum.label : ''", "title": null, "tickSize": {"condition": {"test": "datum.value % 500 === 0", "value": 9}, "value": 4.5}}}, "y": {"datum": 588.5}, "text": {"field": "band"}}}
          ]
        },
        {
          "data": {"values": [{}]},
          "layer": [
            {"mark": {"type": "text", "fontSize": 29, "fontWeight": "bold", "align": "center", "baseline": "alphabetic", "color": "black"}, "encoding": {"x": {"datum": 1548}, "y": {"datum": -68}, "text": {"value": "Wavenumber (cm⁻¹)"}}},
            {"mark": {"type": "text", "fontSize": 19, "fontWeight": "bold", "align": "center", "baseline": "alphabetic", "color": "black"}, "encoding": {"x": {"datum": 1548}, "y": {"datum": -118}, "text": {"value": "(b)"}}}
          ]
        }
      ]
    }
  ]
}
